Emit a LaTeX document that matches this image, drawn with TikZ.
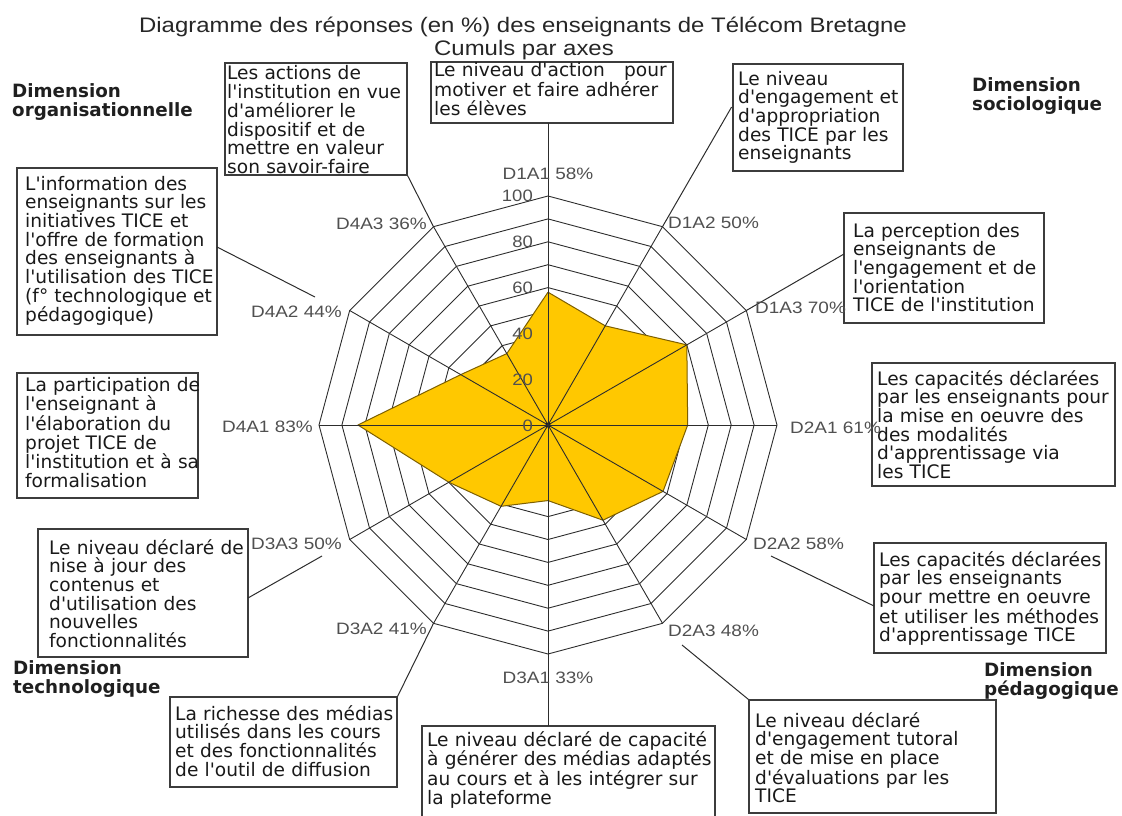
\documentclass[tikz,border=0pt]{standalone}
\usepackage{fontspec}
\usepackage{graphicx}
\setmainfont{DejaVu Sans}[Ligatures=TeXOff]
\newfontfamily\arialf{Liberation Sans}
\usetikzlibrary{fit,calc}
\definecolor{gold}{RGB}{255,200,0}
\definecolor{olivec}{RGB}{125,95,0}
\definecolor{gridc}{RGB}{45,45,45}
\definecolor{lblc}{RGB}{80,80,80}
\definecolor{txtc}{RGB}{25,25,25}
\definecolor{framec}{RGB}{60,60,60}
\begin{document}
\begin{tikzpicture}[x=1pt,y=-1pt,
  grid/.style={draw=gridc, line width=0.9pt, line join=miter},
  spoke/.style={draw=gridc, line width=0.9pt},
  leader/.style={draw=gridc, line width=1pt},
  frame/.style={draw=framec, line width=1.2pt, inner sep=0pt},
  boxtext/.style={anchor=base west, inner sep=0pt, text width=300pt, align=left, text=txtc, font=\fontsize{18.6}{18.7}\selectfont},
  axlabel/.style={inner sep=0pt, text=lblc, font=\arialf\fontsize{16.5}{18}\selectfont},
  dimlabel/.style={anchor=base west, inner sep=0pt, align=left, text width=200pt, text=black!88, font=\bfseries\fontsize{18.3}{19}\selectfont},
  titlefont/.style={anchor=base, inner sep=0pt, text=black!85, font=\arialf\fontsize{21}{23}\selectfont}
]
\useasboundingbox (0,0) rectangle (1122,816);
\def\cx{548}\def\cy{425}\def\R{229}

% title
\node[titlefont] (title) at (523,33) {\scalebox{1.14}[1]{Diagramme des réponses (en \%) des enseignants de Télécom Bretagne}};
\node[titlefont] (subtitle) at (524,56) {\scalebox{1.14}[1]{Cumuls par axes}};

% rings
\foreach \i in {1,...,10} {
  \draw[grid] ({\cx},{\cy-\i/10*\R})
    \foreach \a in {60,30,...,-240} { -- ({\cx+\i/10*\R*cos(\a)},{\cy-\i/10*\R*sin(\a)}) } -- cycle;
}

% data polygon
\path[fill=gold, draw=olivec, line width=1pt, line join=round] ({\cx},{\cy-0.58*\R})
  \foreach \v/\a in {50/60,70/30,61/0,58/-30,48/-60,33/-90,41/-120,50/-150,83/-180,44/-210,36/-240}
  { -- ({\cx+\v/100*\R*cos(\a)},{\cy-\v/100*\R*sin(\a)}) } -- cycle;

% vertices and spokes
\node[circle, fill=black, inner sep=0pt, minimum size=5pt] (c) at (\cx,\cy) {};
\foreach \n/\a in {v1/90,v2/60,v3/30,v4/0,v5/-30,v6/-60,v7/-90,v8/-120,v9/-150,v10/-180,v11/-210,v12/-240} {
  \coordinate (\n) at ({\cx+\R*cos(\a)},{\cy-\R*sin(\a)});
  \draw[spoke] (c.center) -- (\n);
}

% boxes
\node[frame, fit={(225,63) (407,175)}] (b1) {};
\node[frame, fit={(431,62) (673,123)}] (b2) {};
\node[frame, fit={(733,64) (903,171)}] (b3) {};
\node[frame, fit={(17,168) (217,335)}] (b4) {};
\node[frame, fit={(17,373) (198,498)}] (b5) {};
\node[frame, fit={(844,213) (1044,323)}] (b6) {};
\node[frame, fit={(872,363) (1115,486)}] (b7) {};
\node[frame, fit={(874,543) (1106,653)}] (b8) {};
\node[frame, fit={(38,529) (248,657)}] (b9) {};
\node[frame, fit={(170,697) (397,787)}] (b10) {};
\node[frame, fit={(422,726) (715,824)}] (b11) {};
\node[frame, fit={(749,700) (996,813)}] (b12) {};

% leader end points
\coordinate (e1) at (548,123);
\coordinate (e2) at (731.6,107);
\coordinate (e3) at (844,254);
\coordinate (s5) at (771,556);
\coordinate (e5) at (874,606);
\coordinate (s6) at (682,645);
\coordinate (e7) at (548,726);
\coordinate (s9) at (322,556);
\coordinate (e9) at (248,598);
\coordinate (s11) at (315,297);
\coordinate (e11) at (217,247);

\draw[leader] (v1) -- (e1);
\draw[leader] (v2) -- (e2);
\draw[leader] (v3) -- (e3);
\draw[leader] (s5) -- (e5);
\draw[leader] (s6) -- (b12.north west);
\draw[leader] (v7) -- (e7);
\draw[leader] (v8) -- (b10.north east);
\draw[leader] (s9) -- (e9);
\draw[leader] (s11) -- (e11);
\draw[leader] (v12) -- (b1.south east);

% scale labels
\foreach \s/\y in {100/201,80/247,60/293,40/339,20/385,0/431} {
  \node[axlabel, anchor=base east] (sc\s) at (533,\y) {\scalebox{1.12}[1]{\s}};
}

% axis labels
\node[axlabel, anchor=base] (l1) at (548,179) {\scalebox{1.15}[1]{D1A1 58\%}};
\node[axlabel, anchor=base west] (l2) at (668,228) {\scalebox{1.15}[1]{D1A2 50\%}};
\node[axlabel, anchor=base west] (l3) at (755,313) {\scalebox{1.15}[1]{D1A3 70\%}};
\node[axlabel, anchor=base west] (l4) at (790,433) {\scalebox{1.15}[1]{D2A1 61\%}};
\node[axlabel, anchor=base west] (l5) at (753,549) {\scalebox{1.15}[1]{D2A2 58\%}};
\node[axlabel, anchor=base west] (l6) at (668,636) {\scalebox{1.15}[1]{D2A3 48\%}};
\node[axlabel, anchor=base] (l7) at (548,683) {\scalebox{1.15}[1]{D3A1 33\%}};
\node[axlabel, anchor=base east] (l8) at (427,634) {\scalebox{1.15}[1]{D3A2 41\%}};
\node[axlabel, anchor=base east] (l9) at (342,549) {\scalebox{1.15}[1]{D3A3 50\%}};
\node[axlabel, anchor=base east] (l10) at (313,432) {\scalebox{1.15}[1]{D4A1 83\%}};
\node[axlabel, anchor=base east] (l11) at (342,317) {\scalebox{1.15}[1]{D4A2 44\%}};
\node[axlabel, anchor=base east] (l12) at (427,229) {\scalebox{1.15}[1]{D4A3 36\%}};

% box texts
\node[boxtext] (t1) at (227,80) {Les actions de\\l'institution en vue\\d'améliorer le\\dispositif et de\\mettre en valeur\\son savoir-faire};
\node[boxtext] (t2) at (434,77) {Le niveau d'action\hspace{0.7em} pour\\motiver et faire adhérer\\les élèves};
\node[boxtext] (t3) at (738,85) {Le niveau\\d'engagement et\\d'appropriation\\des TICE par les\\enseignants};
\node[boxtext] (t4) at (25,190) {L'information des\\enseignants sur les\\initiatives TICE et\\l'offre de formation\\des enseignants à\\l'utilisation des TICE\\(f° technologique et\\pédagogique)};
\node[boxtext] (t5) at (25,391) {La participation de\\l'enseignant à\\l'élaboration du\\projet TICE de\\l'institution et à sa\\formalisation};
\node[boxtext] (t6) at (853,237) {La perception des\\enseignants de\\l'engagement et de\\l'orientation\\TICE de l'institution};
\node[boxtext] (t7) at (877,385) {Les capacités déclarées\\par les enseignants pour\\la mise en oeuvre des\\des modalités\\d'apprentissage via\\les TICE};
\node[boxtext] (t8) at (879,566) {Les capacités déclarées\\par les enseignants\\pour mettre en oeuvre\\et utiliser les méthodes\\d'apprentissage TICE};
\node[boxtext] (t9) at (49,554) {Le niveau déclaré de\\nise à jour des\\contenus et\\d'utilisation des\\nouvelles\\fonctionnalités};
\node[boxtext] (t10) at (175,720) {La richesse des médias\\utilisés dans les cours\\et des fonctionnalités\\de l'outil de diffusion};
\node[boxtext] (t11) at (427,746) {Le niveau déclaré de capacité\\à générer des médias adaptés\\au cours et à les intégrer sur\\la plateforme};
\node[boxtext] (t12) at (755,727) {Le niveau déclaré\\d'engagement tutoral\\et de mise en place\\d'évaluations par les\\TICE};

% dimension labels
\node[dimlabel] (dorg) at (12,98) {Dimension\\organisationnelle};
\node[dimlabel] (dsoc) at (972,92) {Dimension\\sociologique};
\node[dimlabel] (dtec) at (13,674) {Dimension\\technologique};
\node[dimlabel] (dped) at (984,676) {Dimension\\pédagogique};
\end{tikzpicture}
\end{document}
